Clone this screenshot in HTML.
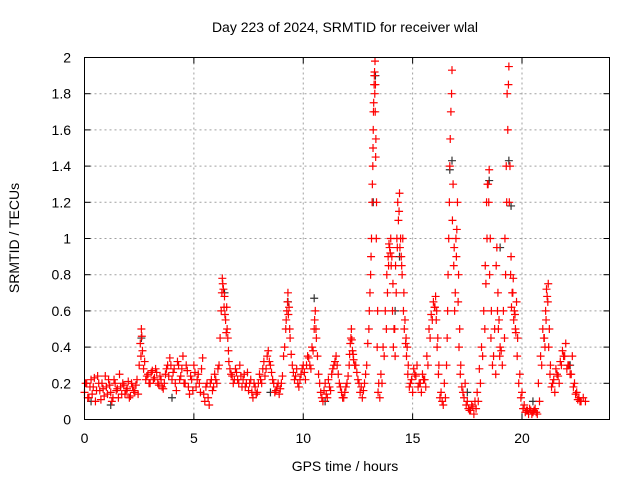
<!DOCTYPE html>
<html><head><meta charset="utf-8"><style>
body{margin:0;background:#fff;width:640px;height:480px;overflow:hidden}
text{font-family:"Liberation Sans",sans-serif;font-size:14px;fill:#000}
</style></head><body>
<svg id="chart" width="640" height="480" viewBox="0 0 640 480">
<g id="grid"></g>
<g id="ticks"></g>
<g id="marks"></g>
<rect x="84.5" y="57.5" width="525" height="362" fill="none" stroke="#000" stroke-width="1"/>
<text x="345" y="32" text-anchor="middle">Day 223 of 2024, SRMTID for receiver wlal</text>
<text x="345" y="471" text-anchor="middle">GPS time / hours</text>
<text x="19" y="238" text-anchor="middle" transform="rotate(-90 19 238)">SRMTID / TECUs</text>
</svg>
<script>
const xTicks=[0,5,10,15,20];
const yTicks=[0,0.2,0.4,0.6,0.8,1,1.2,1.4,1.6,1.8,2];
const yTickLabels=["0","0.2","0.4","0.6","0.8","1","1.2","1.4","1.6","1.8","2"];
const redT=[0,.1,.2,.3,.4,.5,.6,.7,.8,.9,1,1.1,1.2,1.3,1.4,1.5,1.6,1.7,1.8,1.9,2,2.1,2.2,2.3,2.4,2.5,2.55,2.6,2.65,2.7,2.8,2.9,3,3.1,3.2,3.3,3.4,3.5,3.6,3.7,3.8,3.9,4,4.1,4.2,4.3,4.4,4.5,4.6,4.7,4.8,4.9,5,5.1,5.2,5.3,5.4,5.5,5.6,5.7,5.8,5.9,6,6.1,6.2,6.25,6.3,6.35,6.4,6.45,6.5,6.55,6.6,6.7,6.8,6.9,7,7.1,7.2,7.3,7.4,7.5,7.6,7.7,7.8,7.9,8,8.1,8.2,8.3,8.4,8.5,8.6,8.7,8.8,8.9,9,9.1,9.2,9.25,9.3,9.35,9.4,9.5,9.6,9.7,9.8,9.9,10,10.1,10.2,10.3,10.4,10.5,10.55,10.6,10.7,10.8,10.9,11,11.1,11.2,11.3,11.4,11.5,11.6,11.7,11.8,11.9,12,12.1,12.15,12.2,12.25,12.3,12.4,12.5,12.6,12.7,12.8,12.9,13,13.05,13.1,13.15,13.18,13.2,13.22,13.25,13.28,13.3,13.32,13.35,13.4,13.45,13.5,13.6,13.7,13.8,13.85,13.9,13.95,14,14.05,14.1,14.15,14.2,14.25,14.3,14.35,14.4,14.45,14.5,14.55,14.6,14.65,14.7,14.75,14.8,14.9,15,15.1,15.2,15.3,15.4,15.5,15.6,15.7,15.8,15.9,16,16.05,16.1,16.15,16.2,16.3,16.4,16.5,16.55,16.6,16.65,16.7,16.75,16.8,16.85,16.9,16.95,17,17.05,17.1,17.15,17.2,17.3,17.4,17.5,17.6,17.7,17.8,17.9,18,18.1,18.2,18.3,18.35,18.4,18.45,18.5,18.55,18.6,18.7,18.8,18.85,18.9,18.95,19,19.1,19.2,19.25,19.3,19.35,19.4,19.45,19.5,19.55,19.6,19.65,19.7,19.75,19.8,19.9,20,20.1,20.2,20.3,20.4,20.5,20.6,20.7,20.8,20.9,21,21.05,21.1,21.15,21.2,21.25,21.3,21.4,21.5,21.6,21.7,21.8,21.9,22,22.1,22.2,22.3,22.4,22.5,22.6,22.7,22.8,22.9];
const redV=[.15,.2,.12,.22,.18,.1,.24,.16,.2,.13,.18,.22,.15,.12,.2,.17,.25,.14,.19,.16,.21,.13,.18,.15,.22,.3,.42,.5,.38,.28,.22,.25,.2,.27,.23,.26,.19,.22,.17,.25,.3,.34,.22,.28,.16,.3,.24,.35,.2,.27,.14,.22,.3,.18,.25,.15,.34,.1,.2,.08,.22,.18,.22,.28,.45,.6,.78,.72,.68,.55,.62,.45,.32,.25,.2,.28,.22,.3,.18,.25,.2,.16,.22,.12,.18,.15,.25,.2,.32,.28,.38,.3,.22,.15,.18,.14,.2,.35,.5,.6,.7,.62,.45,.3,.22,.28,.18,.25,.3,.22,.35,.3,.4,.5,.6,.45,.25,.15,.1,.2,.12,.18,.25,.3,.35,.25,.18,.12,.15,.2,.3,.42,.5,.38,.33,.3,.22,.15,.12,.2,.3,.5,.7,.9,1.2,1.4,1.6,1.75,1.9,1.98,1.85,1.55,1.2,.6,.2,.12,.2,.35,.5,.7,.85,.95,1,.9,.75,.5,.35,.7,.95,1.1,1.25,1,.85,1,.7,.55,.45,.4,.3,.2,.15,.25,.3,.2,.15,.22,.18,.3,.45,.55,.62,.68,.6,.45,.3,.15,.08,.12,.3,.6,1,1.4,1.7,1.93,1.3,.95,.7,.9,1.2,.8,.5,.3,.15,.2,.1,.05,.08,.03,.06,.1,.2,.35,.5,.75,1,1.3,1.38,1,.6,.35,.25,.95,.7,.55,.4,.3,.45,.8,1.2,1.6,1.95,1.4,.9,.7,.78,.6,.5,.65,.45,.25,.15,.08,.05,.03,.05,.04,.06,.03,.1,.3,.45,.4,.55,.68,.75,.5,.3,.2,.15,.25,.2,.3,.35,.42,.3,.25,.35,.2,.15,.12,.1,.12,.1];
const red2T=[.05,.15,.25,.35,.45,.55,.65,.75,.85,.95,1.05,1.15,1.25,1.35,1.45,1.55,1.65,1.75,1.85,1.95,2.05,2.15,2.25,2.35,2.45,2.58,2.62,2.75,2.85,2.95,3.05,3.15,3.25,3.35,3.45,3.55,3.65,3.75,3.85,3.95,4.05,4.15,4.25,4.35,4.45,4.55,4.65,4.75,4.85,4.95,5.05,5.15,5.25,5.35,5.45,5.55,5.65,5.75,5.85,5.95,6.05,6.15,6.28,6.32,6.38,6.42,6.48,6.52,6.58,6.65,6.75,6.85,6.95,7.05,7.15,7.25,7.35,7.45,7.55,7.65,7.75,7.85,7.95,8.05,8.15,8.25,8.35,8.45,8.55,8.65,8.75,8.85,8.95,9.05,9.15,9.22,9.28,9.32,9.38,9.45,9.55,9.65,9.75,9.85,9.95,10.05,10.15,10.25,10.35,10.45,10.52,10.58,10.65,10.75,10.85,10.95,11.05,11.15,11.25,11.35,11.45,11.55,11.65,11.75,11.85,11.95,12.05,12.12,12.18,12.22,12.28,12.35,12.45,12.55,12.65,12.75,12.85,12.95,13.02,13.08,13.12,13.16,13.19,13.21,13.24,13.26,13.27,13.29,13.31,13.34,13.38,13.42,13.55,13.65,13.75,13.82,13.88,13.92,13.98,14.02,14.08,14.12,14.18,14.22,14.28,14.32,14.38,14.42,14.48,14.52,14.58,14.62,14.68,14.72,14.78,14.85,14.95,15.05,15.15,15.25,15.35,15.45,15.55,15.65,15.75,15.85,15.95,16.02,16.08,16.12,16.18,16.25,16.35,16.45,16.58,16.62,16.68,16.72,16.78,16.82,16.88,16.92,16.98,17.02,17.08,17.12,17.18,17.25,17.35,17.45,17.55,17.65,17.75,17.85,17.95,18.05,18.15,18.25,18.32,18.38,18.42,18.48,18.52,18.58,18.65,18.75,18.82,18.88,18.92,18.98,19.05,19.15,19.22,19.28,19.32,19.38,19.42,19.48,19.52,19.58,19.62,19.68,19.72,19.78,19.85,19.95,20.05,20.15,20.25,20.35,20.45,20.55,20.65,20.75,20.85,20.95,21.02,21.08,21.12,21.18,21.22,21.28,21.35,21.45,21.55,21.65,21.75,21.85,21.95,22.05,22.15,22.25,22.35,22.45,22.55,22.65,22.75,22.85];
const red2V=[.2,.12,.18,.14,.23,.16,.2,.11,.17,.24,.14,.19,.1,.22,.16,.12,.18,.2,.14,.17,.12,.2,.16,.19,.14,.35,.46,.32,.24,.2,.26,.22,.28,.2,.24,.18,.2,.28,.24,.3,.26,.2,.32,.22,.28,.2,.3,.18,.24,.16,.26,.22,.2,.28,.14,.18,.12,.2,.16,.25,.2,.3,.7,.75,.62,.58,.48,.5,.38,.28,.24,.22,.26,.2,.24,.22,.18,.26,.2,.15,.2,.14,.2,.22,.28,.24,.35,.32,.26,.2,.16,.2,.17,.24,.4,.55,.65,.58,.5,.36,.26,.24,.2,.22,.28,.26,.3,.34,.28,.38,.55,.5,.35,.2,.12,.16,.14,.22,.16,.28,.32,.3,.2,.15,.12,.18,.24,.36,.45,.44,.36,.3,.26,.2,.18,.16,.25,.42,.6,.8,1,1.3,1.5,1.7,1.85,1.92,1.8,1.7,1.45,1,.4,.15,.25,.4,.6,.8,.9,.97,.92,.85,.6,.4,.5,.85,1,1.2,1.15,.95,.9,.8,.6,.5,.42,.35,.25,.18,.22,.28,.24,.18,.2,.25,.22,.35,.5,.58,.65,.62,.55,.4,.25,.12,.1,.2,.45,.8,1.2,1.55,1.8,1.1,.85,.6,1,1.05,.65,.4,.25,.18,.12,.08,.06,.05,.07,.1,.15,.28,.4,.6,.85,1.2,1.3,1.2,.8,.45,.3,.5,.85,.6,.5,.35,.38,.6,1,1.4,1.8,1.85,1.2,.8,.62,.7,.55,.58,.48,.35,.2,.12,.06,.04,.05,.06,.03,.05,.04,.2,.35,.5,.45,.6,.72,.65,.4,.25,.18,.22,.28,.24,.32,.38,.35,.28,.3,.25,.18,.14,.11,.1];
const blackT=[.3,1.2,2.6,4,6.4,8.5,9.3,10.5,11,13.2,13.3,14.2,14.4,16.7,16.8,17.5,18.5,19,19.4,19.5,20.5,22.2];
const blackV=[.1,.08,.45,.12,.7,.15,.65,.67,.1,1.2,1.9,.6,.9,1.38,1.43,.15,1.32,.95,1.43,1.18,.1,.3];
const X0=84.5,X1=609.5,Y0=419.5,Y1=57.5;
const xs=t=>X0+(t/24)*(X1-X0);
const ys=v=>Y0-(v/2)*(Y0-Y1);
const NS="http://www.w3.org/2000/svg";
function mk(tag,attrs,parent){const e=document.createElementNS(NS,tag);for(const k in attrs)e.setAttribute(k,attrs[k]);parent.appendChild(e);return e;}
const grid=document.getElementById('grid'),ticks=document.getElementById('ticks'),marks=document.getElementById('marks');
yTicks.forEach((v,i)=>{
  const y=ys(v);
  if(i>0&&i<yTicks.length-1){const g=mk('line',{x1:X0,x2:X1,y1:y,y2:y,stroke:'#a0a0a0','stroke-dasharray':'2,3'},grid);
  
  }
  mk('line',{x1:X0,x2:X0+6,y1:y,y2:y,stroke:'#000'},ticks);
  mk('line',{x1:X1-6,x2:X1,y1:y,y2:y,stroke:'#000'},ticks);
  const t=mk('text',{x:71,y:y+5,'text-anchor':'end'},ticks);t.textContent=yTickLabels[i];
  
  
});
xTicks.forEach(v=>{
  const x=xs(v);
  if(v>0){const g=mk('line',{x1:x,x2:x,y1:Y0,y2:Y1,stroke:'#a0a0a0','stroke-dasharray':'2,3'},grid);
  
  }
  mk('line',{x1:x,x2:x,y1:Y0,y2:Y0-6,stroke:'#000'},ticks);
  mk('line',{x1:x,x2:x,y1:Y1,y2:Y1+6,stroke:'#000'},ticks);
  const t=mk('text',{x:x,y:443,'text-anchor':'middle'},ticks);t.textContent=String(v);
  
  
});
function plus(t,v,color,name){
  const x=xs(t),y=ys(v);
  const p=mk('path',{d:`M${x-4} ${y}H${x+4}M${x} ${y-4}V${y+4}`,stroke:color,'stroke-width':1.2,fill:'none'},marks);
  
  
}
blackT.forEach((t,i)=>plus(t,blackV[i],'#333','black-point'));
redT.forEach((t,i)=>plus(t,redV[i],'#ff0000','red-point'));
red2T.forEach((t,i)=>plus(t,red2V[i],'#ff0000','red-point'));
</script>
</body></html>
